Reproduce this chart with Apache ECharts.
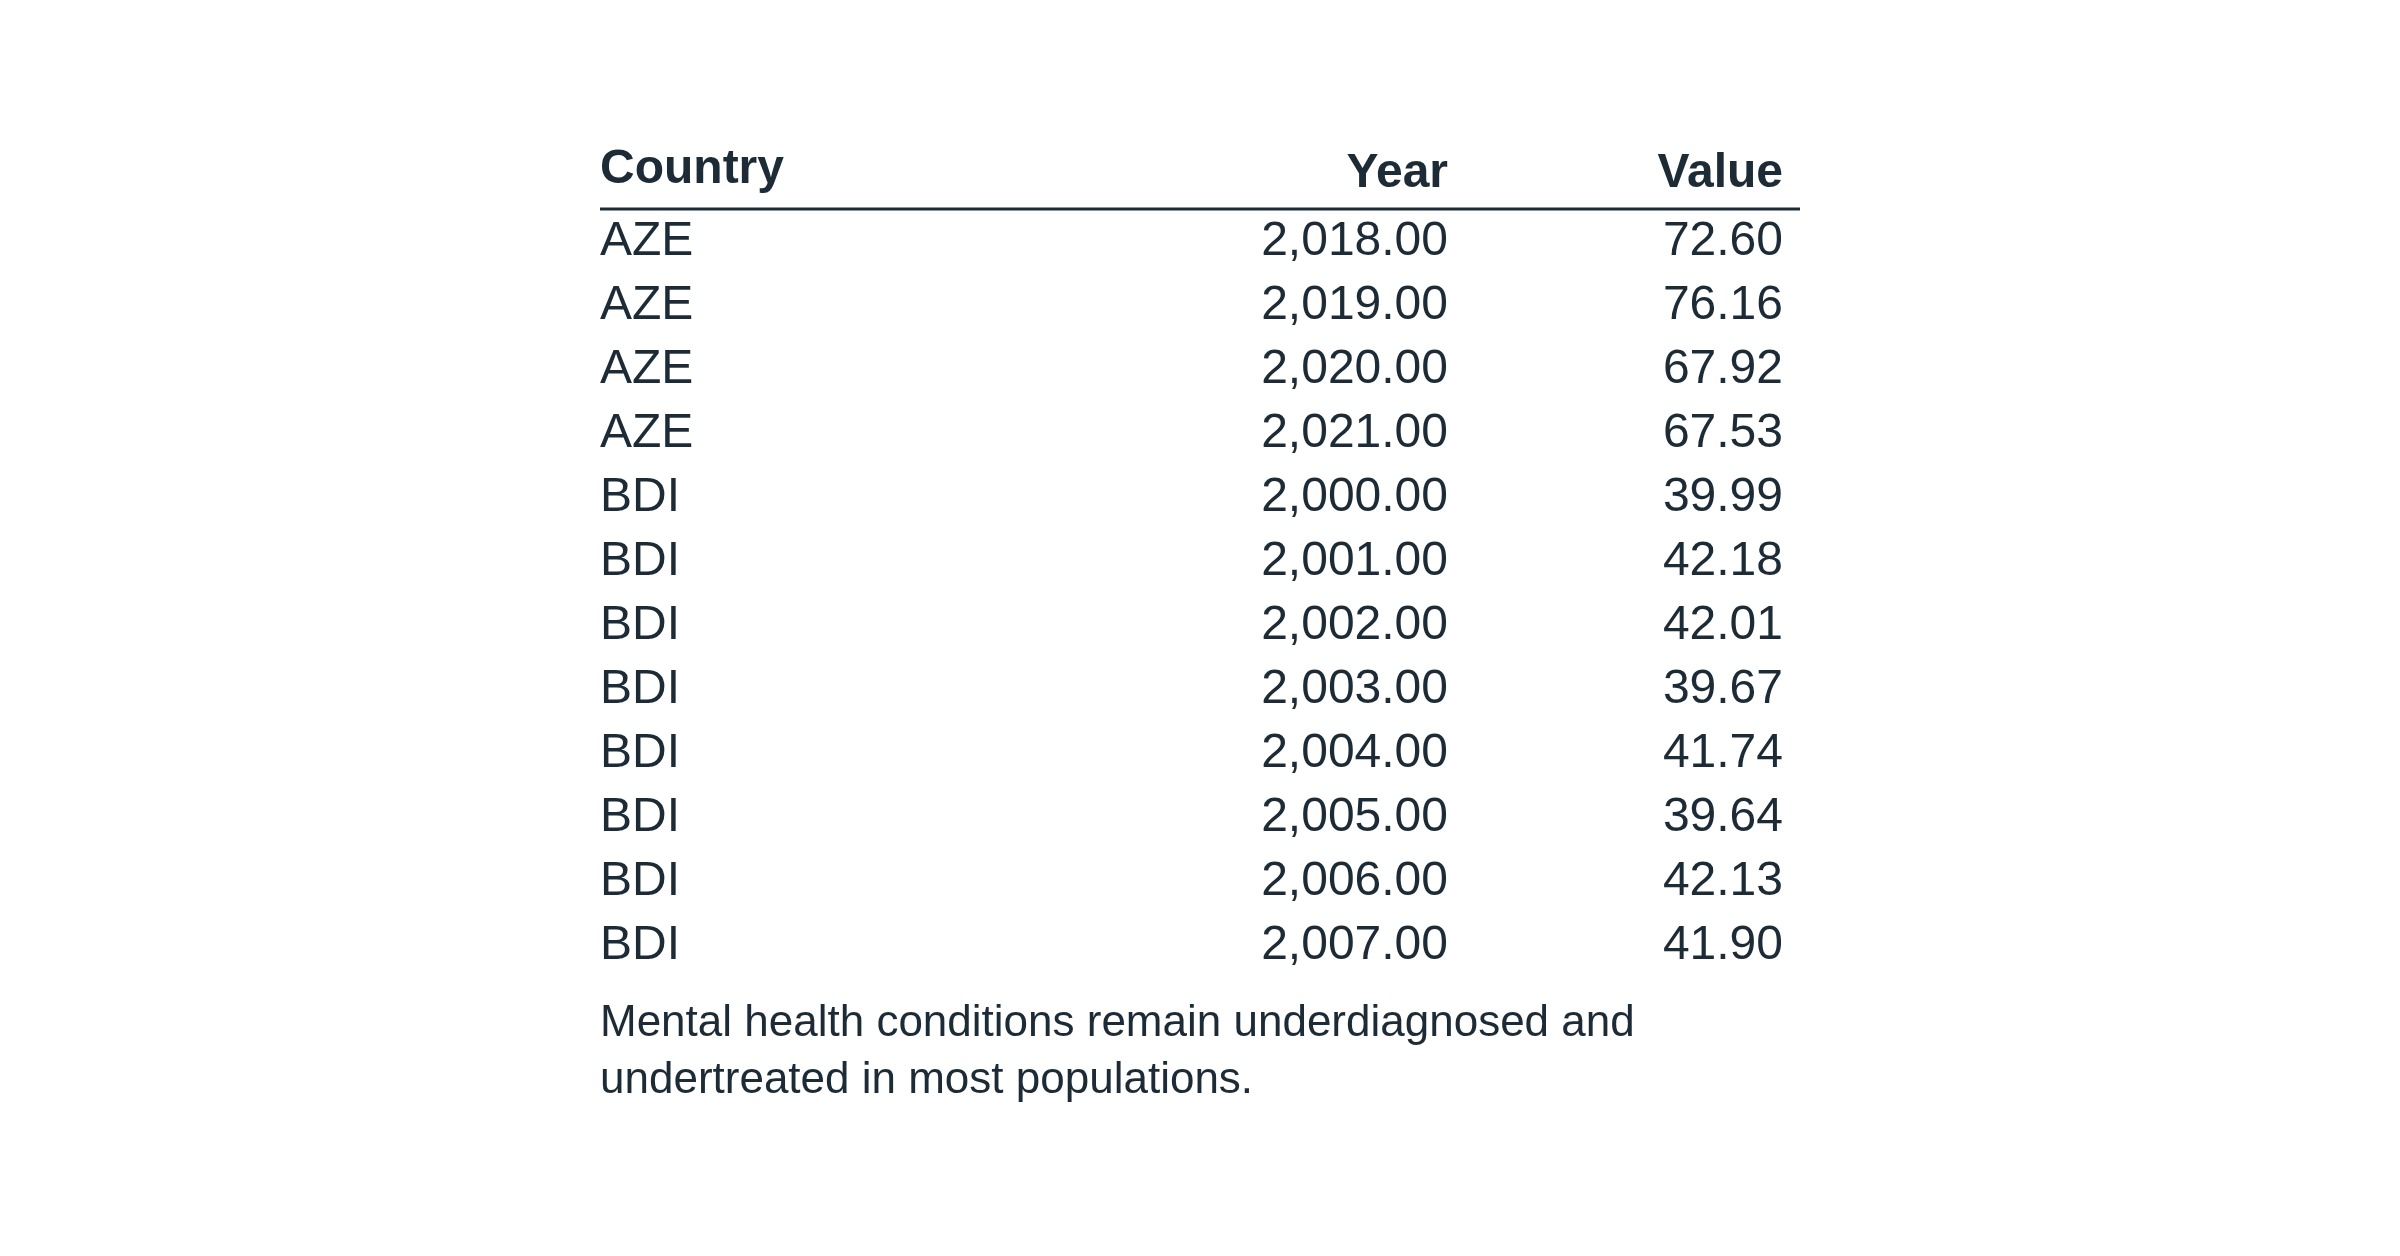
<!DOCTYPE html>
<html><head><meta charset="utf-8">
<script src="https://cdn.jsdelivr.net/npm/echarts@6/dist/echarts.min.js"></script>
<style>html,body{margin:0;padding:0;background:#fff}#c{width:2400px;height:1256px}</style>
</head><body><div id="c"></div>
<script>
var headers = ['Country', 'Year', 'Value'];
var countries = ['AZE','AZE','AZE','AZE','BDI','BDI','BDI','BDI','BDI','BDI','BDI','BDI'];
var years = [2018,2019,2020,2021,2000,2001,2002,2003,2004,2005,2006,2007];
var values = [72.60,76.16,67.92,67.53,39.99,42.18,42.01,39.67,41.74,39.64,42.13,41.90];
var caption = ['Mental health conditions remain underdiagnosed and', 'undertreated in most populations.'];

function fmt(v) {
  return v.toLocaleString('en-US', {minimumFractionDigits: 2, maximumFractionDigits: 2});
}

var chart = echarts.init(document.getElementById('c'));
var col = '#1d2b36';
var font = 'Liberation Sans, Arial, sans-serif';
var els = [];
var x0 = 600, xYear = 1448, xVal = 1783, hy = 174, rowTop = 242, rowH = 64;

els.push({type:'text', left:x0, top:hy - 28, style:{text:headers[0], font:'bold 48px ' + font, fill:col}});
els.push({type:'text', x:xYear, y:hy, style:{text:headers[1], font:'bold 48px ' + font, fill:col, align:'right', verticalAlign:'middle'}});
els.push({type:'text', x:xVal, y:hy, style:{text:headers[2], font:'bold 48px ' + font, fill:col, align:'right', verticalAlign:'middle'}});
els.push({type:'line', shape:{x1:x0, y1:209, x2:1800, y2:209}, style:{stroke:col, lineWidth:3}});

countries.forEach(function (c, i) {
  var y = rowTop + i * rowH;
  els.push({type:'text', x:x0, y:y, style:{text:c, font:'48px ' + font, fill:col, verticalAlign:'middle'}});
  els.push({type:'text', x:xYear, y:y, style:{text:fmt(years[i]), font:'48px ' + font, fill:col, align:'right', verticalAlign:'middle'}});
  els.push({type:'text', x:xVal, y:y, style:{text:fmt(values[i]), font:'48px ' + font, fill:col, align:'right', verticalAlign:'middle'}});
});
caption.forEach(function (t, i) {
  els.push({type:'text', x:x0, y:1024 + i * 57, style:{text:t, font:'44px ' + font, fill:col, verticalAlign:'middle'}});
});

chart.setOption({backgroundColor:'#fff', graphic:{elements:els}});
</script></body></html>
